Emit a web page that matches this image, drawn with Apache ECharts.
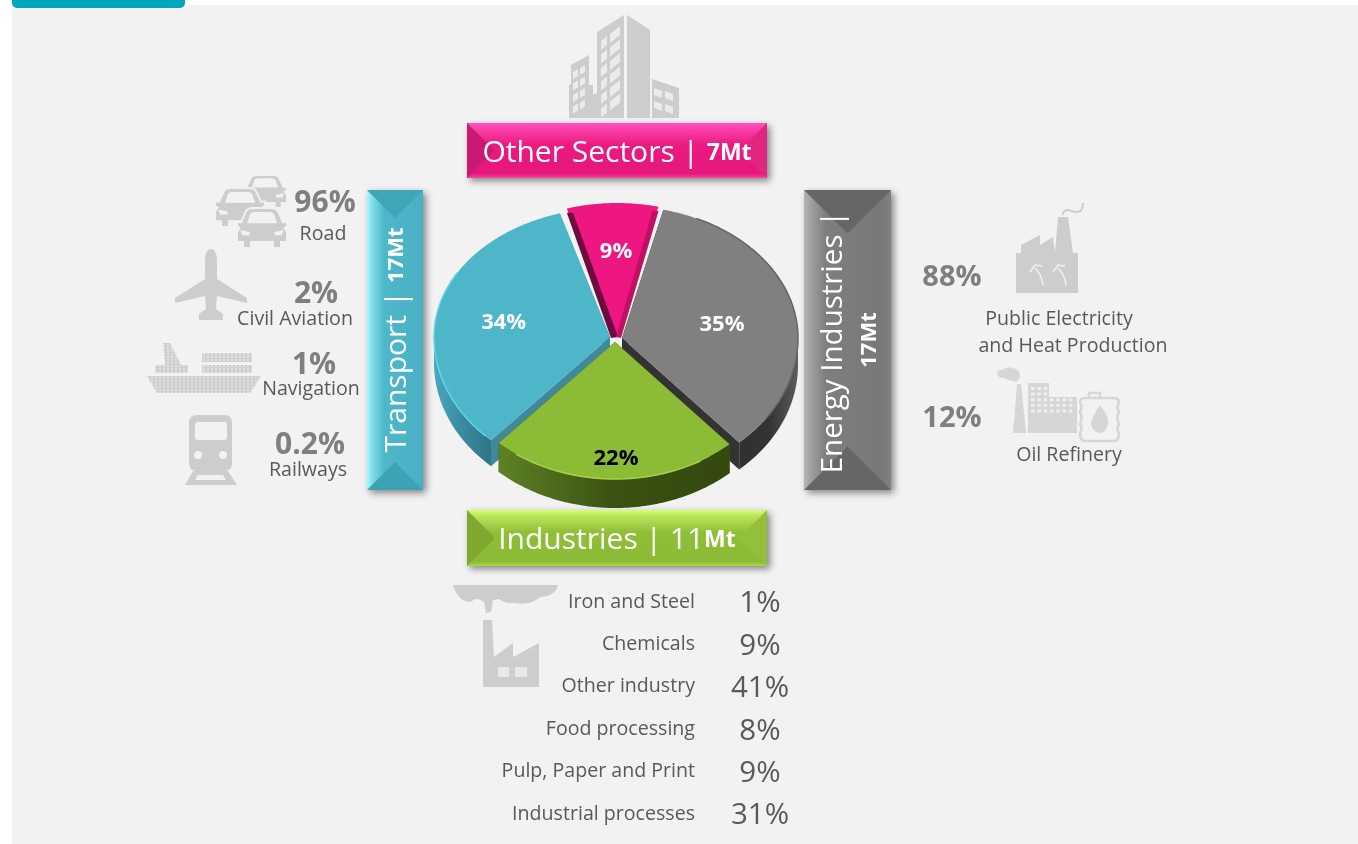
<!DOCTYPE html>
<html>
<head>
<meta charset="utf-8">
<title>Emissions by sector</title>
<script src="https://cdn.jsdelivr.net/npm/echarts@6/dist/echarts.min.js"></script>
<style>
  html, body { margin: 0; padding: 0; background: #fff; }
  #chart { width: 1358px; height: 844px; }
</style>
</head>
<body>
<div id="chart"></div>
<script>
// data
const sectorNames = ['Other Sectors', 'Energy Industries', 'Industries', 'Transport']
const sectorShare = [9, 35, 22, 34]
const sectorMt = [7, 17, 11, 17]

const transportNames = ['Road', 'Civil Aviation', 'Navigation', 'Railways']
const transportShare = [96, 2, 1, 0.2]

const energyNames = ['Public Electricity', 'and Heat Production', 'Oil Refinery']
const energyShare = [88, 12]

const industryNames = ['Iron and Steel', 'Chemicals', 'Other industry', 'Food processing', 'Pulp, Paper and Print', 'Industrial processes']
const industryShare = [1, 9, 41, 8, 9, 31]

const FONT = '"Open Sans", "Noto Sans", sans-serif'
const BG = '#f2f2f2'
const ICON = '#cdcdcd'
const grad = (stops, vertical) => new echarts.graphic.LinearGradient(0, 0, vertical ? 0 : 1, vertical ? 1 : 0,
  stops.map((s, i) => Array.isArray(s)
    ? { offset: s[0], color: s[1] }
    : { offset: i / (stops.length - 1), color: s }))

// pie look, same order as sectorShare
const CX = 615
const CY = 342
const START = -16.2
const TILT = 0.07 // back of the tilted pie looks narrower than the front
const TURN = -1.5
const sliceLook = [
  { dx: 2, dy: -5, rx: 176, ryBack: 134, ryFront: 134, depth: 0, top: '#ee1680', z: 2, labelAt: 0.64, labelDx: 2, labelDy: -2, labelColor: '#fff' },
  { dx: 7, dy: -4, rx: 176, ryBack: 132, ryFront: 140, depth: 27, top: '#808080', z: 1, labelAt: 0.58, labelDx: 1, labelDy: 3, labelColor: '#fff',
    wall: ['#303030', '#333333', '#5c5c5c'], edge: '#333333', rim: '#666666', rimFrom: 25, rimTo: 125 },
  { dx: 0, dy: 0, rx: 172, ryBack: 137, ryFront: 137, depth: 29, top: '#8cbb35', z: 3, labelAt: 0.85, labelDx: 2, labelDy: -2, labelColor: '#000',
    wall: ['#5e8126', '#3a5212', '#35480e'], edge: '#35480e', rim: '#a9d047', rimFrom: 150, rimTo: 215 },
  { dx: -5, dy: -5, rx: 176, ryBack: 129, ryFront: 140, depth: 26, top: '#4db7c9', z: 1, labelAt: 0.62, labelDx: 0, labelDy: 2, labelColor: '#fff',
    wall: ['#4aa9bf', '#3a8a9e', '#2f7486'], edge: '#40899b', rim: '#63d4e8', rimFrom: 225, rimTo: 300 }
]

function renderSlice(params, api) {
  const i = params.dataIndex
  const look = sliceLook[i]
  const before = sectorShare.slice(0, i).reduce((a, b) => a + b, 0)
  const tilt = (deg) => deg - TILT * Math.sin(deg * Math.PI / 180) * 180 / Math.PI + TURN
  const a0 = tilt(START + before * 3.6)
  const a1 = tilt(START + (before + api.value(0)) * 3.6)
  const ax = CX + look.dx
  const ay = CY + look.dy
  const at = (deg, f) => {
    const c = Math.cos(deg * Math.PI / 180)
    return [
      ax + look.rx * f * Math.sin(deg * Math.PI / 180),
      ay - (c > 0 ? look.ryBack : look.ryFront) * f * c
    ]
  }
  const arc = (from, to) => {
    const pts = []
    const n = Math.max(2, Math.ceil(Math.abs(to - from)))
    for (let k = 0; k <= n; k++) pts.push(at(from + (to - from) * k / n, 1))
    return pts
  }
  const down = (pts) => pts.map(p => [p[0], p[1] + look.depth])
  const children = []

  if (look.depth) {
    // radial edges first, then the outer wall
    ;[a0, a1].forEach(a => {
      const line = [[ax, ay], at(a, 1)]
      children.push({
        type: 'polygon',
        z2: look.z,
        shape: { points: line.concat(down(line).reverse()) },
        style: { fill: look.edge }
      })
    })
    const from = Math.max(a0, 90)
    const to = Math.min(a1, 270)
    const front = arc(from, to)
    children.push({
      type: 'polygon',
      z2: look.z,
      shape: { points: front.concat(down(front).reverse()) },
      style: { fill: grad(look.wall) }
    })
  }

  children.push({
    type: 'polygon',
    z2: look.z + 0.1,
    shape: { points: [[ax, ay]].concat(arc(a0, a1)) },
    style: { fill: look.top }
  })

  if (look.rim) {
    children.push({
      type: 'polyline',
      z2: look.z + 0.2,
      shape: { points: arc(look.rimFrom, look.rimTo) },
      style: { fill: 'none', stroke: look.rim, lineWidth: 1.5 }
    })
  }
  if (i === 0) {
    // bevel strips on the small slice, they close the gaps to its neighbours
    children.push({
      type: 'polygon',
      z2: look.z + 0.2,
      shape: { points: [[ax - 6, ay + 1], [ax + 1, ay], at(a0 + 1.5, 0.96), at(a0 - 0.5, 0.97)] },
      style: { fill: '#6d0a3e' }
    }, {
      type: 'polygon',
      z2: look.z + 0.2,
      shape: { points: [[ax + 4, ay + 1], [ax - 1, ay], at(a1 - 1.5, 0.96), at(a1 + 0.5, 0.97)] },
      style: { fill: '#c11063' }
    })
  }

  const mid = at((a0 + a1) / 2, look.labelAt)
  children.push({
    type: 'text',
    z2: 9,
    x: mid[0] + look.labelDx,
    y: mid[1] + 2 + look.labelDy,
    style: {
      text: api.value(0) + '%',
      fill: look.labelColor,
      font: 'bold 22px ' + FONT,
      align: 'center',
      verticalAlign: 'middle'
    }
  })
  return { type: 'group', children }
}

function txt(x, y, text, size, color, weight, align) {
  return {
    type: 'text',
    x,
    y: y + 2,
    style: {
      text,
      fill: color,
      font: (weight || 'normal') + ' ' + size + 'px ' + FONT,
      align: align || 'center',
      verticalAlign: 'middle'
    }
  }
}

function poly(points, fill) {
  return { type: 'polygon', shape: { points }, style: { fill } }
}

function path(d, fill, extra) {
  return { type: 'path', shape: { pathData: d }, style: Object.assign({ fill }, extra || {}) }
}

// face runs across the short side, the two ends are 45 degree triangles
function banner(x, y, w, h, c) {
  const x2 = x + w
  const y2 = y + h
  const flat = w > h
  const t = Math.min(w, h) / 2
  const ends = flat
    ? [poly([[x, y], [x + t, y + t], [x, y2]], c.endA), poly([[x2, y], [x2 - t, y + t], [x2, y2]], c.endB)]
    : [poly([[x, y], [x + t, y + t], [x2, y]], c.endA), poly([[x, y2], [x + t, y2 - t], [x2, y2]], c.endB)]
  return [
    { type: 'rect', shape: { x, y, width: w, height: h }, style: { fill: grad(c.face, flat), shadowBlur: 7, shadowOffsetX: 3, shadowOffsetY: 3, shadowColor: 'rgba(0,0,0,.45)' } },
    ...ends
  ]
}

function labelRich(x, y, text, rotated, a, b) {
  return {
    type: 'text',
    x,
    y,
    rotation: rotated ? Math.PI / 2 : 0,
    style: {
      text,
      align: 'center',
      verticalAlign: 'middle',
      rich: {
        a: { font: 'normal ' + a + 'px ' + FONT, fill: '#fff' },
        b: { font: 'bold ' + b + 'px ' + FONT, fill: '#fff' }
      }
    }
  }
}

function car(x, y, w, h) {
  const u = (s) => s.replace(/(-?[\d.]+),(-?[\d.]+)/g, (m, a, b) => (x + a * w).toFixed(1) + ',' + (y + b * h).toFixed(1))
  return [
    path(u('M.17,.1 Q.2,0 .32,0 L.68,0 Q.8,0 .83,.1 L.92,.36 L1,.34 L1,.46 L.95,.5 L1,.6 L1,.85 L.88,.85 L.88,1 L.72,1 L.72,.85 L.28,.85 L.28,1 L.12,1 L.12,.85 L0,.85 L0,.6 L.05,.5 L0,.46 L0,.34 L.08,.36 Z'), ICON, { stroke: BG, lineWidth: 2 }),
    path(u('M.2,.38 L.26,.15 Q.28,.1 .35,.1 L.65,.1 Q.72,.1 .74,.15 L.8,.38 Z M.07,.55 L.25,.6 L.25,.68 L.1,.68 Z M.93,.55 L.75,.6 L.75,.68 L.9,.68 Z'), BG)
  ]
}

function renderIcons() {
  const windows = []
  for (let r = 0; r < 6; r++) {
    const y = 36 + r * 13.5
    windows.push('M601,' + (y + 5) + ' L607,' + y + ' L607,' + (y + 9) + ' L601,' + (y + 14) + ' Z')
    windows.push('M610,' + (y - 2) + ' L620,' + (y - 10) + ' L620,' + (y - 1) + ' L610,' + (y + 7) + ' Z')
  }
  for (let r = 0; r < 4; r++) {
    const y = 69 + r * 11.5
    windows.push('M573,' + (y + 3) + ' L578,' + y + ' L578,' + (y + 7) + ' L573,' + (y + 10) + ' Z')
    windows.push('M580,' + (y - 1) + ' L585,' + (y - 4) + ' L585,' + (y + 3) + ' L580,' + (y + 6) + ' Z')
  }
  const lowWindows = []
  for (let r = 0; r < 2; r++) {
    for (let c = 0; c < 2; c++) {
      const x = 654 + c * 11
      const y = 88 + r * 13 + c * 3
      lowWindows.push('M' + x + ',' + y + ' L' + (x + 8) + ',' + (y + 3) + ' L' + (x + 8) + ',' + (y + 10) + ' L' + x + ',' + (y + 7) + ' Z')
    }
  }
  const refineryWindows = []
  for (let c = 0; c < 7; c++) {
    for (let r = 0; r < 5; r++) {
      if (r < 2 && c > 2) continue
      refineryWindows.push('M' + (1031 + c * 6.3) + ',' + (387 + r * 5.6) + ' h3.6 v3 h-3.6 Z')
    }
  }
  // the ship is a dithered picture in the original
  const shipLines = []
  for (let y = 345; y < 394; y += 3) shipLines.push('M147,' + y + ' L261,' + y)

  const children = [
    // building
    path('M597,32 L624,15 L624,118 L569,118 L569,85 L571,84 L571,65 L589,55 L589,85 L593,85 L593,95 L597,93 Z M627,15 L650,30 L650,118 L627,118 Z M652,79 L679,88 L679,118 L652,118 Z', ICON),
    path(windows.join(' ') + ' ' + lowWindows.join(' '), '#ebebeb'),
    // cars
    ...car(243, 175, 44, 33),
    ...car(215, 188, 50, 39),
    ...car(237, 208, 50, 40),
    // plane
    path('M205,262 Q205,249 211,249 Q217,249 217,262 L217,279 L247,298 L247,303 L217,296 L216,309 L223,314 L223,320 L199,320 L199,314 L206,309 L205,296 L175,303 L175,298 L205,279 Z', ICON),
    // ship
    path('M147,376 L261,376 L250,393 L157,393 Z M202,353 L252,353 L252,362 L202,362 Z M202,365 L252,365 L252,373 L202,373 Z M155,365 L188,365 L188,373 L155,373 Z M163,343 L170,343 L181,365 L165,365 Z', '#cfcfcf'),
    path(shipLines.join(' '), 'none', { stroke: BG, lineWidth: 1, lineDash: [2, 2] }),
    // train
    path('M197,415 L224,415 Q232,415 232,423 L232,463 Q232,471 224,471 L228,471 L237,485 L185,485 L193,471 L197,471 Q189,471 189,463 L189,423 Q189,415 197,415 Z', ICON),
    path('M198,422 L224,422 Q227,422 227,425 L227,437 Q227,440 224,440 L198,440 Q195,440 195,437 L195,425 Q195,422 198,422 Z M198,475 L223,475 L226,480 L195,480 Z', BG),
    { type: 'circle', shape: { cx: 198, cy: 455, r: 4 }, style: { fill: BG } },
    { type: 'circle', shape: { cx: 223, cy: 455, r: 4 }, style: { fill: BG } },
    // public electricity factory
    path('M1016,293 L1016,253 L1021,253 L1021,245 L1040,235 L1040,245 L1053,237 L1055,253 L1058,217 L1068,217 L1073,253 L1078,253 L1078,293 Z', ICON),
    path('M1063,215 Q1063,210 1068,210 Q1074,212 1078,212 Q1083,211 1083,203', 'none', { stroke: ICON, lineWidth: 2 }),
    path('M1043,285 Q1042,275 1035,268 M1030,272 L1035,265 L1042,266 M1066,285 Q1065,275 1058,268 M1053,272 L1058,265 L1065,266', 'none', { stroke: '#f2f2f2', lineWidth: 1.5 }),
    // refinery
    path('M1016,382 Q1008,380 1004,378 Q997,378 997,373 Q998,369 1003,370 Q1007,366 1012,368 Q1020,369 1020,375 Q1020,380 1016,382 Z M1017,384 L1021,384 L1026,433 L1013,433 Z M1028,433 L1028,383 L1049,383 L1049,397 L1077,397 L1077,433 Z', '#d6d6d6'),
    path(refineryWindows.join(' '), '#eeeeee'),
    path('M1085,398 L1114,398 Q1119,398 1119,403 Q1116,407 1119,412 Q1116,418 1119,424 Q1116,429 1119,433 Q1119,441 1114,441 L1085,441 Q1080,441 1080,433 Q1083,429 1080,424 Q1083,418 1080,412 Q1083,407 1080,403 Q1080,398 1085,398 Z M1089,398 L1089,393 L1100,393 L1100,398', 'none', { stroke: '#d6d6d6', lineWidth: 2.5 }),
    path('M1100,405 Q1110,418 1108,425 Q1105,433 1100,433 Q1094,433 1091,425 Q1091,418 1100,405 Z', '#d6d6d6'),
    // industry factory
    path('M453,585 L558,585 Q556,596 540,597 Q530,606 515,603 Q505,604 499,599 L493,600 L491,612 L486,613 L484,602 Q476,596 471,602 Q458,602 453,585 Z M483,687 L483,620 L492,620 L494,657 L513,643 L513,657 L539,643 L539,687 Z', ICON),
    path('M498,667 h11 v10 h-11 Z M515,667 h12 v10 h-12 Z', '#e8e8e8')
  ]
  return { type: 'group', children }
}

function breakdown() {
  const out = []
  const pctColor = '#7f7f7f'
  const nameColor = '#595959'
  const tPct = [[325, 201], [316, 292], [314, 363], [310, 443]]
  const tName = [[323, 232], [295, 317], [311, 387], [308, 468]]
  transportShare.forEach((v, i) => {
    out.push(txt(tPct[i][0], tPct[i][1], v + '%', 30, pctColor, 'bold'))
    out.push(txt(tName[i][0], tName[i][1], transportNames[i], 19.6, nameColor))
  })
  const ePct = [[952, 276], [952, 417]]
  energyShare.forEach((v, i) => out.push(txt(ePct[i][0], ePct[i][1], v + '%', 29, pctColor, 'bold')))
  const eName = [[1059, 317], [1073, 344], [1069, 453]]
  energyNames.forEach((n, i) => out.push(txt(eName[i][0], eName[i][1], n, 19.6, nameColor)))
  industryNames.forEach((n, i) => {
    const y = 601 + i * 42.4
    out.push(txt(695, y - 1, n, 19.6, nameColor, 'normal', 'right'))
    out.push(txt(760, y + 1, industryShare[i] + '%', 29.5, nameColor))
  })
  return out
}

const chart = echarts.init(document.getElementById('chart'), null, { renderer: 'canvas' })

chart.setOption({
  animation: false,
  backgroundColor: '#fff',
  graphic: {
    elements: [
      { type: 'rect', shape: { x: 12, y: 5, width: 1346, height: 839 }, style: { fill: BG } },
      { type: 'rect', shape: { x: 12, y: -8, width: 173, height: 16, r: 5 }, style: { fill: '#00a6bb' } },
      ...banner(467, 123, 300, 55, { face: [[0, '#ff55c4'], [0.12, '#fb3fa8'], [0.4, '#ea1a80'], [0.92, '#e6177a'], [1, '#f04a9c']], endA: '#c81a72', endB: '#e0267f' }),
      ...banner(467, 510, 300, 56, { face: [[0, '#d7ff75'], [0.12, '#b8e25a'], [0.4, '#8fbf37'], [0.92, '#8bba34'], [1, '#a9d94a']], endA: '#7ea82e', endB: '#93bf3d' }),
      ...banner(367, 190, 56, 300, { face: [[0, '#a6f7fc'], [0.1, '#7fdde8'], [0.3, '#4db8ca'], [1, '#49b0c2']], endA: '#3fa6b8', endB: '#3da2b4' }),
      ...banner(804, 190, 87, 300, { face: [[0, '#b5b5b5'], [0.08, '#a0a0a0'], [0.25, '#7e7e7e'], [0.9, '#787878'], [1, '#808080']], endA: '#666666', endB: '#666666' }),
      labelRich(617, 153, '{a|' + sectorNames[0] + ' | }{b|' + sectorMt[0] + 'Mt}', false, 30, 23),
      labelRich(617, 540, '{a|' + sectorNames[2] + ' | ' + sectorMt[2] + '}{b|Mt}', false, 30, 23),
      labelRich(397, 340, '{a|' + sectorNames[3] + ' | }{b|' + sectorMt[3] + 'Mt}', true, 30, 22),
      labelRich(834, 342, '{a|' + sectorNames[1] + ' |}', true, 29.5, 22),
      labelRich(870, 340, '{b|' + sectorMt[1] + 'Mt}', true, 30, 22),
      ...breakdown()
    ]
  },
  series: [
    {
      type: 'custom',
      coordinateSystem: 'none',
      silent: true,
      renderItem: renderIcons,
      data: [0]
    },
    {
      type: 'custom',
      coordinateSystem: 'none',
      silent: true,
      renderItem: renderSlice,
      data: sectorShare
    }
  ]
})
</script>
</body>
</html>
